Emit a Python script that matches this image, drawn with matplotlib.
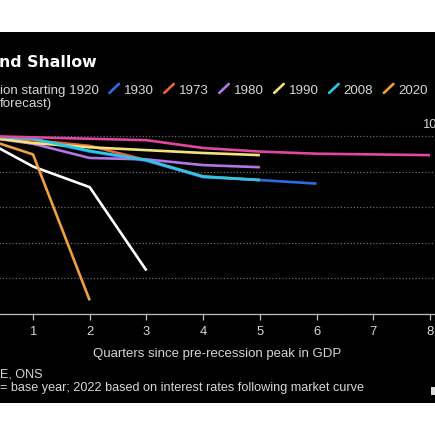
import matplotlib
matplotlib.use('Agg')
import matplotlib.pyplot as plt
from matplotlib.lines import Line2D
from matplotlib.patches import Rectangle

# recession start years, colours as in the legend
years = ['1920', '1930', '1973', '1980', '1990', '2008', '2020', '2022']
colors = ['#ffffff', '#2b6de3', '#e8663d', '#b475e6', '#f3e27c', '#27c8e6', '#f0a03f', '#e0479f']

# GDP index (peak quarter = 100), one value per quarter since peak
gdp_1920 = [100, 95.7, 92.8, 81.1]
gdp_1930 = [100, 99.5, 97.8, 96.5, 94.2, 93.8, 93.3]
gdp_1973 = [100, 99.4, 98.6, 96.6, 94.3, 93.8]
gdp_1980 = [100, 98.9, 96.9, 96.7, 95.9, 95.6]
gdp_1990 = [100, 99.0, 98.4, 98.0, 97.6, 97.3]
gdp_2008 = [100, 99.6, 97.9, 96.6, 94.3, 93.8]
gdp_2020 = [100, 97.4, 76.9]
gdp_2022 = [100, 99.8, 99.6, 99.4, 98.3, 97.8, 97.5, 97.4, 97.3]
series = [gdp_1920, gdp_1930, gdp_1973, gdp_1980, gdp_1990, gdp_2008, gdp_2020, gdp_2022]

quarter_ticks = list(range(1, 9))
y_ticks = [75, 80, 85, 90, 95, 100]

W = H = 435.0
txt = '#d6d6d6'

def fx(px):
    return px / W

def fy(py):
    return 1 - py / H

plt.rcParams['font.family'] = ['Liberation Sans', 'DejaVu Sans']
fig = plt.figure(figsize=(4.351, 4.351), dpi=100, facecolor='white')

# black chart panel (screenshot is cropped)
fig.patches.append(Rectangle((0, fy(403)), 1, fy(32) - fy(403), transform=fig.transFigure,
                             facecolor='black', edgecolor='none', zorder=-10))
# edge of the logo, bottom right
fig.patches.append(Rectangle((fx(431), fy(395)), fx(4), fy(387) - fy(395), transform=fig.transFigure,
                             facecolor='#dcdcdc', edgecolor='none', zorder=-5))

unit = 56.7
x0 = 33 - unit
ax = fig.add_axes([fx(x0), fy(314), fx(435.5 - x0), fy(132.4) - fy(314)])
ax.set_zorder(2)
ax.set_facecolor('none')
ax.set_xlim(0, (435.5 - x0) / unit)
ax.set_ylim(75, 100.5)

for vals, c in zip(series, colors):
    ax.plot(range(len(vals)), vals, color=c, lw=1.9, solid_capstyle='butt', zorder=3)

ax.set_yticks(y_ticks)
ax.grid(axis='y', color='#6a6a6a', linestyle=(0, (1, 1.6)), linewidth=0.9)
ax.tick_params(axis='y', left=False, labelleft=False)
ax.set_xticks(quarter_ticks)
ax.tick_params(axis='x', direction='out', length=4, width=0.9, color='#bdbdbd',
               labelcolor=txt, labelsize=9.4, pad=4.5)
for s in ['top', 'left', 'right']:
    ax.spines[s].set_visible(False)
ax.spines['bottom'].set_color('#bdbdbd')
ax.spines['bottom'].set_linewidth(0.9)

ax.set_xlabel('Quarters since pre-recession peak in GDP', color=txt, fontsize=9.5)
ax.xaxis.set_label_coords((217.2 - x0) / (435.5 - x0), (314 - 357) / 181.6)
ax.xaxis.label.set_va('baseline')

# title and legend (left part cut off in the screenshot)
fig.text(fx(-1), fy(67), 'nd Shallow', color='white', fontsize=11.3, fontweight='bold',
         family='DejaVu Sans', va='baseline')
t = fig.text(fx(0), fy(93.5), 'ion starting 1920', color=txt, fontsize=9.65, va='baseline')
fig.text(fx(0), fy(107), 'forecast)', color=txt, fontsize=9.65, va='baseline')

fig.canvas.draw()
r = fig.canvas.get_renderer()
x = t.get_window_extent(r).x1
for yr, c in zip(years[1:7], colors[1:7]):
    x += 10.5
    fig.add_artist(Line2D([fx(x), fx(x + 9.5)], [fy(93), fy(84)], transform=fig.transFigure,
                          color=c, lw=1.9, solid_capstyle='round'))
    x += 9.5 + 5
    tt = fig.text(fx(x), fy(93.5), yr, color=txt, fontsize=9.65, va='baseline')
    x = tt.get_window_extent(r).x1

fig.text(fx(422), fy(127.7), '100', color=txt, fontsize=9.4, va='baseline')

fig.text(fx(0), fy(377), 'E, ONS', color=txt, fontsize=9.1, va='baseline')
fig.text(fx(0), fy(391), '= base year; 2022 based on interest rates following market curve',
         color=txt, fontsize=9.1, va='baseline')

fig.savefig('out.png', dpi=100, facecolor='white')
